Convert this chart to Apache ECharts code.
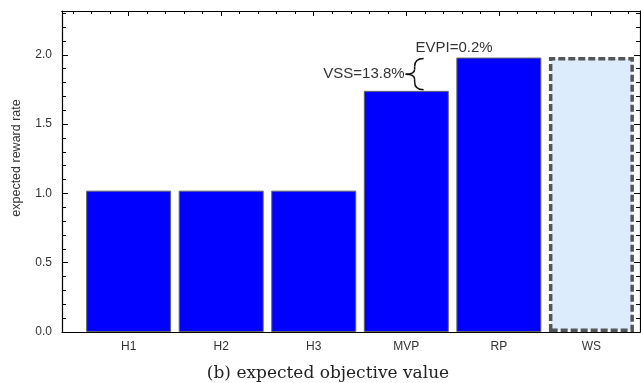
<!DOCTYPE html>
<html>
<head>
<meta charset="utf-8">
<script src="https://cdn.jsdelivr.net/npm/echarts@6/dist/echarts.min.js"></script>
<style>html,body{margin:0;padding:0;background:#fff}#c{width:641px;height:383px}</style>
</head>
<body>
<div id="c"></div>
<script>
const categories = ['H1', 'H2', 'H3', 'MVP', 'RP', 'WS'];
const values = [1.02, 1.02, 1.02, 1.74, 1.98, 1.985];
const yTicks = [0, 0.5, 1.0, 1.5, 2.0];
const vssLabel = 'VSS=13.8%';
const evpiLabel = 'EVPI=0.2%';
const xMin = -0.72, xMax = 5.525, yMax = 2.316;

const catIdx = categories.map((_, i) => i);
const minorX = [];
for (let k = -3; k <= 27; k++) { const v = k * 0.2; if (k % 5 !== 0) minorX.push(+v.toFixed(2)); }

const chart = echarts.init(document.getElementById('c'));
const font = 'Liberation Sans, Arial, sans-serif';
const axisLine = { show: true, onZero: false, lineStyle: { color: '#000', width: 1.2 } };

const option = {
  animation: false,
  grid: { left: 62, right: 1, top: 11, bottom: 51 },
  title: {
    text: '(b) expected objective value',
    left: 323, top: 360, textAlign: 'center',
    textStyle: { fontFamily: 'DejaVu Serif, serif', fontWeight: 'normal', fontSize: 17, color: '#222' }
  },
  xAxis: [
    { type: 'value', min: xMin, max: xMax, position: 'bottom', axisLine: axisLine,
      axisTick: { show: false }, splitLine: { show: false },
      axisLabel: { customValues: catIdx, margin: 9, color: '#333', fontFamily: font, fontSize: 12,
        formatter: v => categories[Math.round(v)] } },
    { type: 'value', min: xMin, max: xMax, position: 'top', axisLine: axisLine,
      axisTick: { show: true, inside: true, length: 5, customValues: catIdx, lineStyle: { color: '#000' } },
      axisLabel: { show: false }, splitLine: { show: false } },
    { type: 'value', min: xMin, max: xMax, position: 'top', axisLine: axisLine,
      axisTick: { show: true, inside: true, length: 3, customValues: minorX, lineStyle: { color: '#000' } },
      axisLabel: { show: false }, splitLine: { show: false } }
  ],
  yAxis: [
    { type: 'value', min: 0, max: yMax, position: 'left', axisLine: axisLine,
      axisTick: { show: true, inside: true, length: 6, customValues: yTicks, lineStyle: { color: '#000' } },
      minorTick: { show: true, splitNumber: 5, length: 4, lineStyle: { color: '#000' } },
      interval: 0.5,
      axisLabel: { customValues: yTicks, margin: 10, color: '#333', fontFamily: font, fontSize: 12,
        formatter: v => v.toFixed(1) },
      splitLine: { show: false }, minorSplitLine: { show: false } },
    { type: 'value', min: 0, max: yMax, position: 'right', axisLine: axisLine, interval: 0.5,
      axisTick: { show: true, inside: true, length: 6, lineStyle: { color: '#000' } },
      minorTick: { show: true, splitNumber: 5, length: 4, lineStyle: { color: '#000' } },
      axisLabel: { show: false }, splitLine: { show: false } }
  ],
  series: [{
    type: 'bar', xAxisIndex: 0, yAxisIndex: 0, barWidth: 85,
    data: values.map((v, i) => {
      const d = { value: [i, v] };
      if (categories[i] === 'WS') {
        d.itemStyle = { color: '#ddecfd', borderColor: '#555', borderWidth: 3.5, borderType: [7, 3] };
      }
      return d;
    }),
    itemStyle: { color: '#0000ff', borderColor: '#666', borderWidth: 1 }
  }]
};
chart.setOption(option);

// annotations placed from data coordinates
const iM = categories.indexOf('MVP'), iR = categories.indexOf('RP');
const pTop = chart.convertToPixel({ gridIndex: 0 }, [iM + 0.09, values[iR]]);
const pBot = chart.convertToPixel({ gridIndex: 0 }, [iM + 0.09, values[iM]]);
const x = pTop[0], y1 = pTop[1] + 1, y2 = pBot[1] - 1, ym = (y1 + y2) / 2;
const w = 9;
const bs = { stroke: '#111', lineWidth: 1.5, fill: 'none' };
const pEv = chart.convertToPixel({ gridIndex: 0 }, [iM + 0.1, 2.05]);
chart.setOption({
  graphic: [
    { type: 'text', x: 17, y: 158, rotation: Math.PI / 2,
      style: { text: 'expected reward rate', font: '12.5px ' + font, fill: '#333', align: 'center', verticalAlign: 'middle' } },
    { type: 'bezierCurve', shape: { x1: x + w, y1: y1, x2: x, y2: y1 + 8, cpx1: x + 2, cpy1: y1, cpx2: x, cpy2: y1 + 3 }, style: bs },
    { type: 'line', shape: { x1: x, y1: y1 + 8, x2: x, y2: ym - 5 }, style: bs },
    { type: 'bezierCurve', shape: { x1: x, y1: ym - 5, x2: x - w, y2: ym, cpx1: x, cpy1: ym - 1, cpx2: x - 4, cpy2: ym }, style: bs },
    { type: 'bezierCurve', shape: { x1: x - w, y1: ym, x2: x, y2: ym + 5, cpx1: x - 4, cpy1: ym, cpx2: x, cpy2: ym + 1 }, style: bs },
    { type: 'line', shape: { x1: x, y1: ym + 5, x2: x, y2: y2 - 8 }, style: bs },
    { type: 'bezierCurve', shape: { x1: x, y1: y2 - 8, x2: x + w, y2: y2, cpx1: x, cpy1: y2 - 3, cpx2: x + 2, cpy2: y2 }, style: bs },
    { type: 'text', x: x - w - 1, y: ym, style: { text: vssLabel, font: '15px ' + font, fill: '#333', align: 'right', verticalAlign: 'middle' } },
    { type: 'text', x: pEv[0], y: pEv[1], style: { text: evpiLabel, font: '15px ' + font, fill: '#333', align: 'left', verticalAlign: 'middle' } }
  ]
});
</script>
</body>
</html>
